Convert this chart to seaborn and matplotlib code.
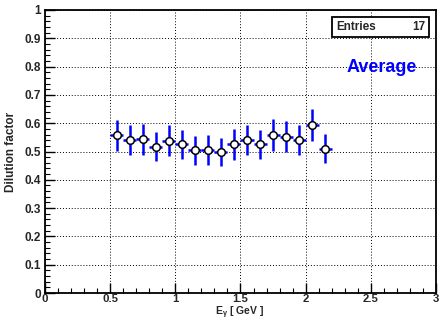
import matplotlib
matplotlib.use("Agg")
import matplotlib.pyplot as plt
import seaborn as sns
import pandas as pd
import numpy as np
from matplotlib.ticker import MultipleLocator

energy = [0.55, 0.65, 0.75, 0.85, 0.95, 1.05, 1.15, 1.25, 1.35, 1.45,
          1.55, 1.65, 1.75, 1.85, 1.95, 2.05, 2.15]
dilution = [0.558, 0.542, 0.543, 0.517, 0.538, 0.525, 0.504, 0.504, 0.497,
            0.525, 0.539, 0.525, 0.558, 0.552, 0.539, 0.594, 0.510]
dil_err = [0.055, 0.053, 0.054, 0.051, 0.054, 0.052, 0.052, 0.053, 0.050,
           0.054, 0.053, 0.052, 0.057, 0.055, 0.053, 0.056, 0.052]
bin_half = [0.05] * len(energy)
x_ticks = [0, 0.5, 1, 1.5, 2, 2.5, 3]
x_tick_labels = ["0", "0.5", "1", "1.5", "2", "2.5", "3"]
y_ticks = [0, 0.1, 0.2, 0.3, 0.4, 0.5, 0.6, 0.7, 0.8, 0.9, 1]
y_tick_labels = ["0", "0.1", "0.2", "0.3", "0.4", "0.5", "0.6", "0.7", "0.8", "0.9", "1"]
n_entries = 17

df = pd.DataFrame({"E": energy, "D": dilution, "err": dil_err, "xerr": bin_half})

sns.set_style("white")
plt.rcParams['font.family'] = ['Liberation Sans', 'DejaVu Sans']
plt.rcParams['font.weight'] = 'bold'
plt.rcParams['mathtext.fontset'] = 'custom'
plt.rcParams['mathtext.rm'] = 'Liberation Sans:bold'
plt.rcParams['mathtext.it'] = 'Liberation Sans:bold'
plt.rcParams['mathtext.bf'] = 'Liberation Sans:bold'
plt.rcParams['mathtext.default'] = 'bf'

fig = plt.figure(figsize=(4.41, 3.22), dpi=100)
ax = fig.add_axes([45/441, 1 - 293/322, (436 - 45)/441, (293 - 10)/322])

ax.errorbar(df["E"], df["D"], yerr=df["err"], xerr=df["xerr"], fmt="none",
            ecolor="#0000ff", elinewidth=1.8, capsize=0, zorder=3)
sns.scatterplot(data=df, x="E", y="D", ax=ax, marker="o", s=30,
                facecolor="white", edgecolor="black", linewidth=1.1, zorder=4)

ax.set_xlim(0, 3)
ax.set_ylim(0, 1)
ax.set_xticks(x_ticks)
ax.set_xticklabels(x_tick_labels, fontsize=8.2, fontweight="bold")
ax.set_yticks(y_ticks)
ax.set_yticklabels(y_tick_labels, fontsize=8.5, fontweight="bold")
ax.xaxis.set_minor_locator(MultipleLocator(0.1))
ax.yaxis.set_minor_locator(MultipleLocator(0.02))
ax.tick_params(which="both", direction="in", left=True, bottom=True,
               top=False, right=False, color="black")
ax.tick_params(which="major", length=7, width=1.0)
ax.tick_params(which="minor", length=3.5, width=0.8)
ax.tick_params(axis="y", which="major", pad=3)
ax.tick_params(axis="x", which="major", pad=1)

ax.grid(True, which="major", color="black", linestyle=(0, (1, 2)), linewidth=0.7)
for s in ax.spines.values():
    s.set_color("black")
    s.set_linewidth(1.3)

ax.set_xlabel("")
ax.set_ylabel("Dilution factor", fontsize=8.5, fontweight="bold", labelpad=5)
fig.text(240/441, 1 - 315/322, r"E$_{\gamma}$ [ GeV ]", fontsize=7.5,
         fontweight="bold", ha="center", va="baseline")

# stats box
bx0, by0, bx1, by1 = 332, 17, 429, 37
fig.patches.append(plt.Rectangle((bx0/441, 1 - by1/322), (bx1 - bx0)/441, (by1 - by0)/322,
                                 transform=fig.transFigure, facecolor="white",
                                 edgecolor="black", linewidth=1.3, zorder=10))
fig.text(336/441, 1 - 27/322, "Entries", fontsize=8.5, fontweight="bold",
         va="center", ha="left", zorder=11)
fig.text(425/441, 1 - 27/322, str(n_entries), fontsize=8.5, fontweight="bold",
         va="center", ha="right", zorder=11)
fig.text(382/441, 1 - 68/322, "Average", fontsize=13, fontweight="bold",
         color="#0000ff", va="center", ha="center")

fig.savefig("out.png", dpi=100, facecolor="white")
